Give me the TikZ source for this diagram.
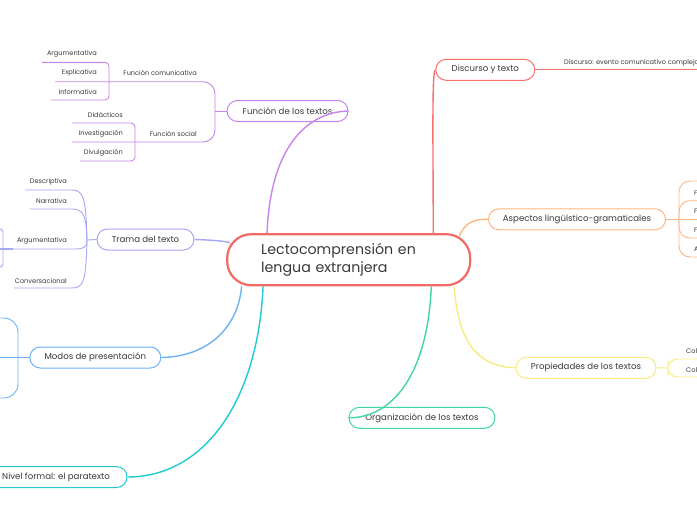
\documentclass[tikz,border=0pt]{standalone}
\usepackage{fontspec}
\setmainfont{Poppins}
\definecolor{ink}{HTML}{3A3A3A}
\definecolor{cred}{HTML}{F26A64}
\definecolor{cdis}{HTML}{F7716C}
\definecolor{cpur}{HTML}{C884EC}
\definecolor{ctra}{HTML}{A6A7F5}
\definecolor{cmod}{HTML}{6CB3F6}
\definecolor{cniv}{HTML}{1FCAD2}
\definecolor{corg}{HTML}{41D6A4}
\definecolor{cpro}{HTML}{F8EC80}
\definecolor{casp}{HTML}{FFB683}
\begin{document}
\begin{tikzpicture}[x=1pt,y=-1pt,
  pill/.style={draw, rounded corners=10.5pt, minimum height=21pt, line width=1pt, fill=white, text=ink, inner sep=0pt, font=\fontsize{8.6}{10}\selectfont},
  small/.style={text=ink, inner sep=0pt, font=\fontsize{6.6}{7.5}\selectfont},
  conn/.style={line width=1.4pt},
  subl/.style={line width=0.9pt}
]
\useasboundingbox[fill=white] (0,0) rectangle (697,520);

% ---------- nodes ----------
\node[pill, draw=cred, line width=2.2pt, rounded corners=24pt, minimum width=243pt, minimum height=51pt, text width=175pt, align=left, inner xsep=34pt, font=\fontsize{14.2}{18.3}\selectfont] (ctr) at (348.7,259.7) {Lectocomprensión en\\lengua extranjera};

\node[pill, draw=cpur, minimum width=121pt] (fun) at (287.5,111) {Función de los textos};
\node[pill, draw=ctra, minimum width=97pt] (tra) at (145.5,239.5) {Trama del texto};
\node[pill, draw=cmod, minimum width=131pt] (mod) at (95.3,357.5) {Modos de presentación};
\node[pill, draw=cniv, minimum width=142pt] (niv) at (56,477) {Nivel formal: el paratexto};
\node[pill, draw=cdis, minimum width=99pt] (dis) at (485.3,69.8) {Discurso y texto};
\node[pill, draw=casp, minimum width=177pt] (asp) at (577,219.3) {Aspectos lingüístico-gramaticales};
\node[pill, draw=cpro, minimum width=140pt] (pro) at (586,367.8) {Propiedades de los textos};
\node[pill, draw=corg, minimum width=146pt] (org) at (422,417.8) {Organización de los textos};

% ---------- Función de los textos subtree ----------
\coordinate (funs) at (215,111);
\draw[subl, cpur] (fun.west) -- (funs);
\draw[subl, cpur, rounded corners=12pt] (funs) |- (55,81.7);
\draw[subl, cpur, rounded corners=12pt] (funs) |- (72,142);
\draw[subl, cpur, rounded corners=4pt] (42,62.3) -| (109,100) -- (51,100);
\draw[subl, cpur, rounded corners=4pt] (72,123) -| (135,161) -- (80,161);
\node[small, anchor=east] (fcom) at (197,73) {Función comunicativa};
\node[small, anchor=east] (fsoc) at (197,134) {Función social};
\node[small, anchor=east] (arg1) at (97,54) {Argumentativa};
\node[small, anchor=east] (expl) at (97,73) {Explicativa};
\node[small, anchor=east] (info) at (97,92) {Informativa};
\node[small, anchor=east] (dida) at (123,115) {Didácticos};
\node[small, anchor=east] (inve) at (123,134) {Investigación};
\node[small, anchor=east] (divu) at (123,153) {Divulgación};

% ---------- Trama del texto subtree ----------
\coordinate (tras) at (87,240);
\draw[subl, ctra] (tra.west) -- (tras);
\draw[subl, ctra] (tras) .. controls (86,200) and (84,190) .. (72,190) -- (25,190);
\draw[subl, ctra] (tras) .. controls (86,216) and (84,209) .. (72,209) -- (30,209);
\draw[subl, ctra] (tras) .. controls (87,247) and (84,249) .. (75,249) -- (0,249);
\draw[subl, ctra] (tras) .. controls (86,280) and (84,288) .. (72,288) -- (14,288);
\draw[subl, ctra, rounded corners=3pt] (0,229) -| (3,267) -- (0,267);
\draw[ctra, line width=2pt] (0,249) -- (13,249);
\node[small, anchor=east] (desc) at (67,182) {Descriptiva};
\node[small, anchor=east] (narr) at (67,201) {Narrativa};
\node[small, anchor=east] (arg2) at (67,241) {Argumentativa};
\node[small, anchor=east] (conv) at (67,281) {Conversacional};

% ---------- Modos de presentación subtree ----------
\coordinate (mods) at (18,357.5);
\draw[subl, cmod] (mod.west) -- (0,357.5);
\draw[cmod, line width=1.8pt] (mods) -- (30,357.5);
\draw[subl, cmod, rounded corners=14pt] (0,318) -| (mods);
\draw[subl, cmod, rounded corners=14pt] (0,398) -| (mods);

% ---------- Discurso y texto ----------
\draw[subl, cdis] (dis.east) -- (697,69.8);
\node[small, anchor=west] (dtx) at (564,62.7) {Discurso: evento comunicativo complejo};

% ---------- Aspectos subtree ----------
\coordinate (asps) at (679,219.3);
\draw[subl, casp] (asp.east) -- (697,219.3);
\draw[subl, casp, rounded corners=11pt] (asps) |- (697,181);
\draw[subl, casp, rounded corners=11pt] (asps) |- (697,200.7);
\draw[subl, casp, rounded corners=11pt] (asps) |- (697,238);
\draw[subl, casp, rounded corners=11pt] (asps) |- (697,257);
\node[small, anchor=west] (af1) at (694,192.7) {F};
\node[small, anchor=west] (af2) at (694,211) {F};
\node[small, anchor=west] (af3) at (694,230) {F};
\node[small, anchor=west] (af4) at (694,249) {A};

% ---------- Propiedades subtree ----------
\coordinate (pros) at (668,368);
\draw[subl, cpro] (pro.east) -- (pros);
\draw[subl, cpro, rounded corners=9pt] (697,359) -| (pros) |- (697,377);
\node[small, anchor=west] (pc1) at (686,351) {Col};
\node[small, anchor=west] (pc2) at (686,370) {Col};

% ---------- main connectors ----------
\draw[conn, cpur] ([xshift=41pt]ctr.north west) .. controls (270,150) and (305,112) .. (fun.east);
\draw[conn, ctra] (tra.east) .. controls (212,240) and (224,241) .. ([xshift=4pt,yshift=17pt]ctr.west);
\draw[conn, cmod] (mod.east) .. controls (205,357) and (238,330) .. ([xshift=15.5pt]ctr.south west);
\draw[conn, cniv] (niv.east) .. controls (205,477) and (258,400) .. ([xshift=37pt]ctr.south west);
\draw[conn, corg] ([xshift=-40pt]ctr.south east) .. controls (428,370) and (395,418) .. (org.west);
\draw[conn, cdis] ([xshift=-38pt]ctr.north east) .. controls (433,130) and (432,72) .. (dis.west);
\draw[conn, casp] ([xshift=-12pt,yshift=-3pt]ctr.north east) .. controls (465,222) and (475,219) .. (asp.west);
\draw[conn, cpro] ([xshift=-17pt]ctr.south east) .. controls (458,345) and (480,367) .. (pro.west);
\end{tikzpicture}
\end{document}
